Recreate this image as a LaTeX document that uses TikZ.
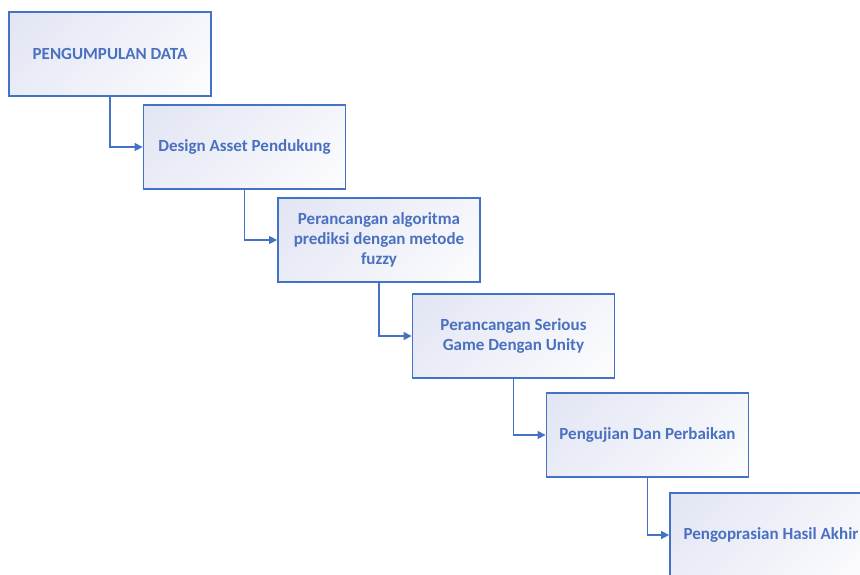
\documentclass[tikz,border=0pt]{standalone}
\usepackage{fontspec}
\setmainfont{Carlito}
\usepackage{xcolor}
\definecolor{boxblue}{HTML}{4472C4}
\definecolor{boxtext}{HTML}{4A70C0}
\definecolor{boxfill}{HTML}{DFE2F2}
\usetikzlibrary{arrows.meta}

\tikzset{
  stage/.style={draw=boxblue,line width=1.8pt,minimum width=202pt,minimum height=84pt,
    fill=white,path picture={\shade[top color=boxfill,middle color=white,bottom color=white,shading angle=45]
      ([shift={(-120pt,120pt)}]path picture bounding box.center) rectangle
      ([shift={(120pt,-120pt)}]path picture bounding box.center);},
    align=center,text=boxtext,font=\fontsize{17}{20}\selectfont\bfseries,inner sep=0pt},
  flow/.style={draw=boxblue,line width=1.3pt,-{Triangle[length=8pt,width=8pt]}}
}

\begin{document}
\begin{tikzpicture}[x=1pt,y=1pt]
    \clip (0,0) rectangle (860,-574);
    \fill[white] (0,0) rectangle (860,-574);
    \node[stage] (pd) at (110,-54) {PENGUMPULAN DATA};
    \node[stage] (da) at (244.5,-147) {Design Asset Pendukung};
    \node[stage] (pa) at (379,-240) {Perancangan algoritma\\prediksi dengan metode\\fuzzy};
    \node[stage] (ps) at (513.5,-336) {Perancangan Serious\\Game Dengan Unity};
    \node[stage] (pp) at (647.5,-435) {Pengujian Dan Perbaikan};
    \node[stage] (ph) at (771,-535) {Pengoprasian Hasil Akhir};
    \draw[flow] (pd) |- (da);
    \draw[flow] (da) |- (pa);
    \draw[flow] (pa) |- (ps);
    \draw[flow] (ps) |- (pp);
    \draw[flow] (pp) |- (ph);
\end{tikzpicture}
\end{document}
